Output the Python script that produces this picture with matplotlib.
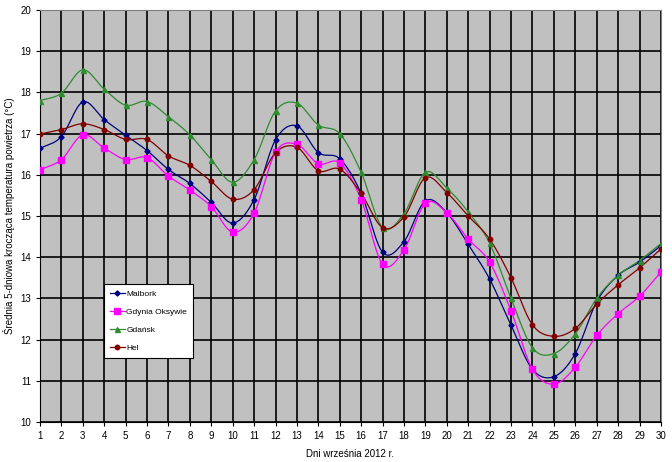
import matplotlib
matplotlib.use("Agg")
import matplotlib.pyplot as plt
import numpy as np

plt.rcParams['font.family'] = ['Liberation Sans', 'DejaVu Sans']

days = list(range(1, 31))

malbork = [16.64, 16.93, 17.77, 17.34, 16.96, 16.59, 16.13, 15.79, 15.33, 14.83,
           15.40, 16.85, 17.19, 16.54, 16.39, 15.55, 14.12, 14.38, 15.37, 15.08,
           14.31, 13.47, 12.35, 11.28, 11.10, 11.66, 12.92, 13.56, 13.88, 14.28]
gdynia = [16.12, 16.37, 16.97, 16.65, 16.37, 16.42, 15.97, 15.63, 15.23, 14.61,
          15.07, 16.55, 16.74, 16.27, 16.29, 15.40, 13.83, 14.18, 15.31, 15.08,
          14.44, 13.88, 12.70, 11.28, 10.92, 11.33, 12.10, 12.63, 13.05, 13.64]
gdansk = [17.80, 17.98, 18.55, 18.08, 17.69, 17.78, 17.41, 16.97, 16.37, 15.82,
          16.37, 17.55, 17.74, 17.21, 17.00, 16.06, 14.72, 15.06, 16.06, 15.68,
          15.10, 14.34, 13.00, 11.80, 11.66, 12.14, 13.00, 13.56, 13.92, 14.33]
hel = [16.99, 17.10, 17.24, 17.10, 16.86, 16.86, 16.46, 16.23, 15.84, 15.41,
       15.64, 16.54, 16.67, 16.10, 16.14, 15.55, 14.72, 14.98, 15.93, 15.57,
       15.00, 14.44, 13.50, 12.36, 12.08, 12.27, 12.86, 13.33, 13.74, 14.20]

series = [
    ("Malbork", malbork, "#000080", "D", 2.6),
    ("Gdynia Oksywie", gdynia, "#FF00FF", "s", 4),
    ("Gdańsk", gdansk, "#2E8B2E", "^", 3.6),
    ("Hel", hel, "#800000", "o", 3.2),
]


def smooth(x, y, n=12):
    # Catmull-Rom style smoothing, like Excel's "smoothed line"
    x = np.asarray(x, float)
    y = np.asarray(y, float)
    px = np.concatenate([[2 * x[0] - x[1]], x, [2 * x[-1] - x[-2]]])
    py = np.concatenate([[2 * y[0] - y[1]], y, [2 * y[-1] - y[-2]]])
    xs, ys = [], []
    t = np.linspace(0, 1, n, endpoint=False)
    for i in range(1, len(px) - 2):
        for arr, out in ((px, xs), (py, ys)):
            p0, p1, p2, p3 = arr[i - 1], arr[i], arr[i + 1], arr[i + 2]
            out.extend(0.5 * ((2 * p1) + (-p0 + p2) * t
                              + (2 * p0 - 5 * p1 + 4 * p2 - p3) * t ** 2
                              + (-p0 + 3 * p1 - 3 * p2 + p3) * t ** 3))
    xs.append(x[-1])
    ys.append(y[-1])
    return np.array(xs), np.array(ys)


fig = plt.figure(figsize=(6.72, 4.62), dpi=100)
ax = fig.add_axes([0.0595, 0.0866, 0.924, 0.8916])
ax.set_facecolor("#C0C0C0")

for name, vals, col, mk, ms in series:
    sx, sy = smooth(days, vals)
    ax.plot(sx, sy, color=col, lw=0.9, zorder=3)
    ax.plot(days, vals, linestyle="none", marker=mk, color=col, ms=ms, zorder=4)
    ax.plot([], [], color=col, lw=0.9, marker=mk, ms=ms, label=name)

ax.set_xlim(1, 30)
ax.set_ylim(10, 20)
ax.set_xticks(days)
ax.set_yticks(range(10, 21))
ax.grid(True, color="black", lw=1.2, zorder=1)
ax.set_axisbelow(True)
ax.tick_params(labelsize=7, length=3, width=0.8)
for s in ("top", "right"):
    ax.spines[s].set_color("#808080")
ax.spines["left"].set_color("black")
ax.spines["bottom"].set_color("black")

ax.set_xlabel("Dni września 2012 r.", fontsize=7, labelpad=6)
ax.set_ylabel("Średnia 5-dniowa krocząca temperatura powietrza (°C)", fontsize=7, labelpad=4)

leg = ax.legend(loc="upper left", bbox_to_anchor=(0.103, 0.335), fontsize=6,
                frameon=True, fancybox=False, edgecolor="black", framealpha=1,
                handlelength=1.8, borderpad=0.7, labelspacing=1.25, handletextpad=0.2,
                borderaxespad=0)
leg.get_frame().set_linewidth(0.8)

fig.savefig("out.png", dpi=100, facecolor="white")
